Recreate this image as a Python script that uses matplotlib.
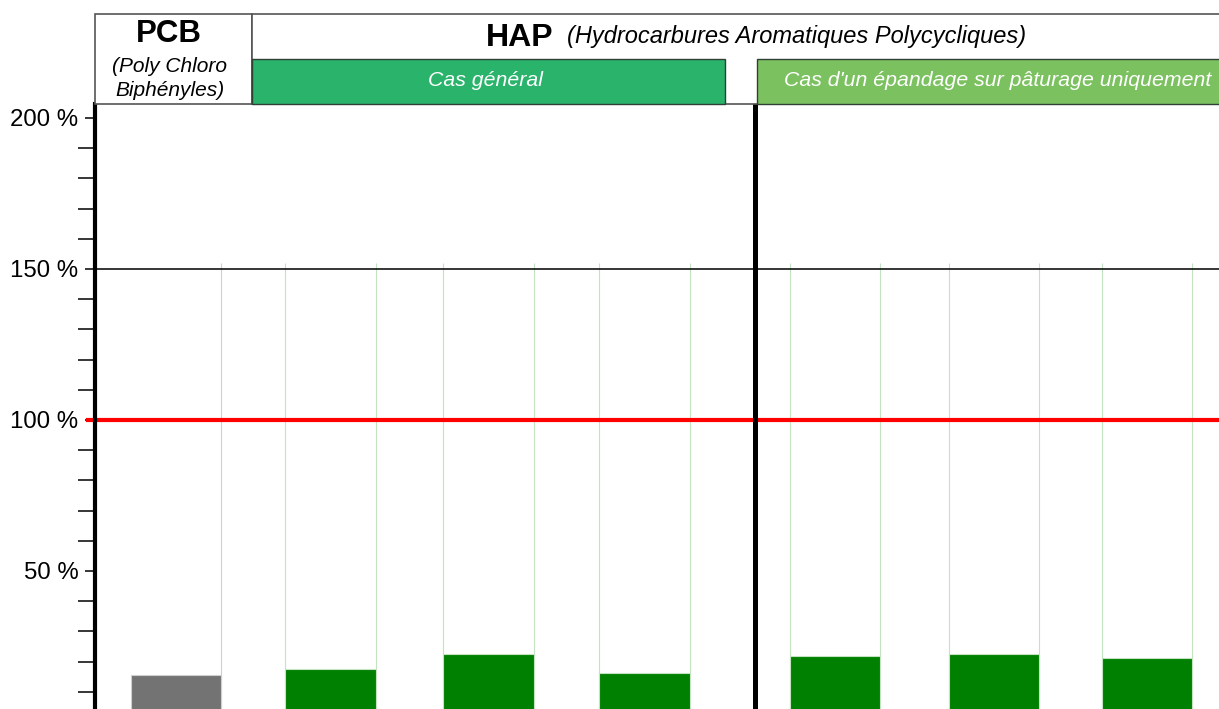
import matplotlib
matplotlib.use("Agg")
import matplotlib.pyplot as plt
from matplotlib.patches import Rectangle

plt.rcParams['font.family'] = ['Liberation Sans', 'DejaVu Sans']

# ---- data ----
categories = ["PCB", "HAP général 1", "HAP général 2", "HAP général 3",
              "HAP pâturage 1", "HAP pâturage 2", "HAP pâturage 3"]
groups = ["PCB", "Cas général", "Cas général", "Cas général",
          "Pâturage", "Pâturage", "Pâturage"]
values = [15.6, 17.5, 22.5, 16.2, 21.9, 22.5, 21.2]
yticks = [50, 100, 150, 200]
ytick_labels = ["50 %", "100 %", "150 %", "200 %"]
threshold = 100
ref_line = 150
frame_top = 152

W, H = 1219, 709
fig = plt.figure(figsize=(W / 100, H / 100), dpi=100)
ax = fig.add_axes([95 / W, 0, (W - 95) / W, (H - 104) / H])

# positions: unit spacing, extra gap between groups
positions = [0.0, 0.99, 2.0, 3.0, 4.22, 5.24, 6.22]
width = 0.58
colors = ["#737373" if g == "PCB" else "#008000" for g in groups]
edgecols = ["#cfcfcf" if g == "PCB" else "#c3e3c3" for g in groups]

ax.bar(positions, values, width=width, color=colors, zorder=2,
       edgecolor=edgecols, linewidth=0.8)

# light frame lines at bar edges
for i, (p, ec) in enumerate(zip(positions, edgecols)):
    xs = [p + width / 2] if i == 0 else [p - width / 2, p + width / 2]
    ax.vlines(xs, 0, frame_top, color=ec, lw=0.8, zorder=1)

ax.set_xlim(-0.52, 6.68)
ax.set_ylim(4.3, 204.6)

ax.axhline(ref_line, color="black", lw=1.1, zorder=3)
ax.axhline(threshold, color="#ff0000", lw=3.0, zorder=4, xmin=-0.006,
           clip_on=False)
ax.axvline(3.71, color="black", lw=3.6, zorder=5)

for s in ["top", "right", "bottom"]:
    ax.spines[s].set_visible(False)
ax.spines["left"].set_linewidth(3.0)
ax.spines["left"].set_zorder(6)
ax.set_xticks([])
ax.set_yticks(yticks)
ax.set_yticklabels(ytick_labels, fontsize=17.3)
ax.set_yticks([v for v in range(10, 201, 10) if v not in yticks], minor=True)
ax.tick_params(axis="y", which="major", length=7, width=1.1, pad=5)
ax.tick_params(axis="y", which="minor", length=12, width=1.1)

# ---- header overlay ----
ov = fig.add_axes([0, 0, 1, 1], zorder=10)
ov.set_xlim(0, W)
ov.set_ylim(H, 0)
ov.axis("off")

ov.add_patch(Rectangle((95, 14), 157, 90, facecolor="white",
                       edgecolor="#555555", lw=1.2))
ov.add_patch(Rectangle((252, 14), 1000, 90, facecolor="white",
                       edgecolor="#555555", lw=1.2, clip_on=False))
ov.add_patch(Rectangle((252, 59), 473, 45, facecolor="#29b36b",
                       edgecolor="#2f3f33", lw=1.0))
ov.add_patch(Rectangle((757, 59), 500, 45, facecolor="#7cc160",
                       edgecolor="#2f3f33", lw=1.0, clip_on=False))

ov.text(169, 34, "PCB", fontsize=22.5, fontweight="bold",
        ha="center", va="center")
ov.text(170, 66, "(Poly Chloro", fontsize=15, style="italic",
        ha="center", va="center")
ov.text(170, 91, "Biphényles)", fontsize=15, style="italic",
        ha="center", va="center")
ov.text(520, 38, "HAP", fontsize=23, fontweight="bold",
        ha="center", va="center")
ov.text(567, 37, "(Hydrocarbures Aromatiques Polycycliques)", fontsize=17,
        style="italic", ha="left", va="center")
ov.text(486, 81, "Cas général", fontsize=15.3, style="italic", color="white",
        ha="center", va="center")
ov.text(998, 81, "Cas d'un épandage sur pâturage uniquement", fontsize=15.3,
        style="italic", color="white", ha="center", va="center")

fig.savefig("out.png", dpi=100)
